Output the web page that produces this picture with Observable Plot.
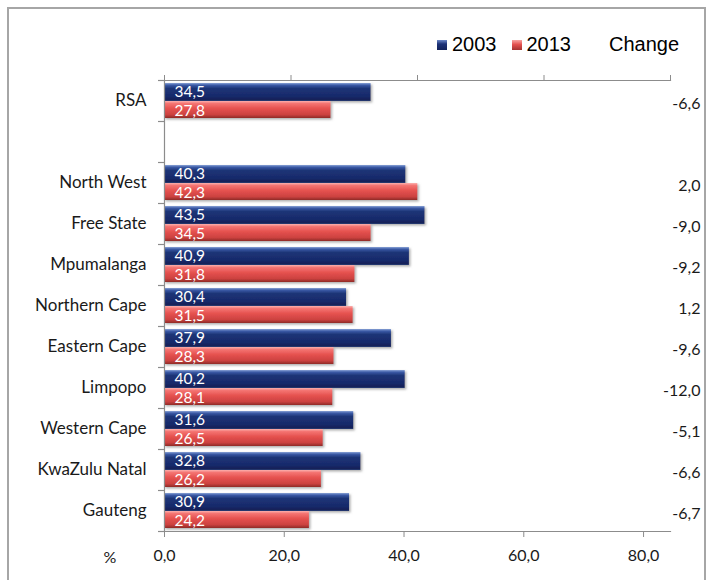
<!DOCTYPE html>
<html>
<head>
<meta charset="utf-8">
<script src="https://cdn.jsdelivr.net/npm/d3@7"></script>
<script src="https://cdn.jsdelivr.net/npm/@observablehq/plot@0.6"></script>
<style>
  html, body { margin: 0; padding: 0; background: #fff; }
  #wrap { position: relative; width: 718px; height: 580px; overflow: hidden; }
  #border { position: absolute; left: 7px; top: 7px; width: 699px; height: 620px; border: 2px solid #a6a6a6; box-sizing: border-box; }
  #chart { position: absolute; left: 0; top: 0; }
  #legend { position: absolute; top: 33px; left: 437px; font-family: "Liberation Sans", Arial, sans-serif; font-size: 20px; color: #000; display: flex; align-items: center; white-space: nowrap; }
  .sw { display: inline-block; width: 10px; height: 10px; margin-right: 5px; }
  .lab { margin-right: 15px; }
</style>
</head>
<body>
<div id="wrap">
  <div id="border"></div>
  <div id="chart"></div>
  <div id="legend"></div>
</div>
<script>
const categories = ["RSA", " ", "North West", "Free State", "Mpumalanga", "Northern Cape", "Eastern Cape", "Limpopo", "Western Cape", "KwaZulu Natal", "Gauteng"];
const values2003 = [34.5, null, 40.3, 43.5, 40.9, 30.4, 37.9, 40.2, 31.6, 32.8, 30.9];
const values2013 = [27.8, null, 42.3, 34.5, 31.8, 31.5, 28.3, 28.1, 26.5, 26.2, 24.2];
const changes = [-6.6, null, 2.0, -9.0, -9.2, 1.2, -9.6, -12.0, -5.1, -6.6, -6.7];
const seriesNames = ["2003", "2013", "Change"];
const xTicks = [0, 20, 40, 60, 80];
const xMax = 84.5;
const topTicks = [0, 21.125, 42.25, 63.375, 84.5];

const fmt = d => d.toFixed(1).replace(".", ",");
const d2003 = categories.map((c, i) => ({cat: c, v: values2003[i]})).filter(d => d.v != null);
const d2013 = categories.map((c, i) => ({cat: c, v: values2013[i]})).filter(d => d.v != null);
const dChange = categories.map((c, i) => ({cat: c, v: changes[i]})).filter(d => d.v != null);

const calibri = "Lato, 'Open Sans', sans-serif";

const chart = Plot.plot({
  width: 718,
  height: 580,
  marginLeft: 164,
  marginRight: 48,
  marginTop: 80,
  marginBottom: 49,
  style: {fontFamily: calibri, fontSize: "16px", color: "#1a1a1a", background: "transparent"},
  x: {domain: [0, xMax], ticks: xTicks},
  y: {domain: categories, padding: 0},
  marks: [
    Plot.barX(d2003, {x: 0, x2: "v", y: "cat", fill: "url(#gBlue)", insetTop: 3, insetBottom: 20}),
    Plot.barX(d2013, {x: 0, x2: "v", y: "cat", fill: "url(#gRed)", insetTop: 21, insetBottom: 3}),
    Plot.text(d2003, {x: 0, y: "cat", text: d => fmt(d.v), fill: "white", textAnchor: "start", dx: 10, dy: -9, fontSize: 15.5}),
    Plot.text(d2013, {x: 0, y: "cat", text: d => fmt(d.v), fill: "white", textAnchor: "start", dx: 10, dy: 10, fontSize: 15.5}),
    Plot.text(dChange, {frameAnchor: "right", y: "cat", text: d => fmt(d.v), textAnchor: "end", dx: 30, dy: 3, fontSize: 16, fill: "#1a1a1a"}),
    Plot.ruleX([0], {stroke: "#8c8c8c", strokeWidth: 1.2}),
    Plot.frame({anchor: "top", stroke: "#8c8c8c", strokeWidth: 1.2}),
    Plot.frame({anchor: "bottom", stroke: "#8c8c8c", strokeWidth: 1.2}),
    Plot.ruleY(categories, {y: d => d, dy: 20.5, x1: -1, x2: 0, stroke: "#8c8c8c", strokeWidth: 1.2}),
    Plot.ruleY([categories[0]], {y: d => d, dy: -20.5, x1: -1, x2: 0, stroke: "#8c8c8c", strokeWidth: 1.2}),
    Plot.axisX({anchor: "bottom", ticks: xTicks, tickFormat: fmt, tickSize: 6, tickPadding: 12, stroke: "#8c8c8c", fill: "#1a1a1a", fontSize: 16, label: null}),
    Plot.axisX({anchor: "top", ticks: topTicks, tickFormat: () => "", tickSize: 6, stroke: "#8c8c8c", label: null}),
    Plot.axisY({anchor: "left", tickSize: 0, tickPadding: 18, fontSize: 17, fill: "#1a1a1a", label: null}),
    Plot.text(["%"], {frameAnchor: "bottom-left", text: d => d, dx: -61, dy: 31, fontSize: 16, fill: "#1a1a1a"})
  ]
});

const svg = d3.select(chart);
const defs = svg.insert("defs", ":first-child");
const gb = defs.append("linearGradient").attr("id", "gBlue").attr("x1", 0).attr("y1", 0).attr("x2", 0).attr("y2", 1);
[["0%", "#8aa3d6"], ["12%", "#3a5aa6"], ["30%", "#1e3577"], ["75%", "#17296a"], ["92%", "#122158"], ["100%", "#2b3f78"]].forEach(([o, c]) => gb.append("stop").attr("offset", o).attr("stop-color", c));
const gr = defs.append("linearGradient").attr("id", "gRed").attr("x1", 0).attr("y1", 0).attr("x2", 0).attr("y2", 1);
[["0%", "#fbb0ad"], ["15%", "#f47472"], ["45%", "#e5514f"], ["80%", "#cc4240"], ["100%", "#8f2a28"]].forEach(([o, c]) => gr.append("stop").attr("offset", o).attr("stop-color", c));
const f = defs.append("filter").attr("id", "shadow").attr("x", "-5%").attr("y", "-20%").attr("width", "115%").attr("height", "160%");
f.append("feDropShadow").attr("dx", 1.5).attr("dy", 1.5).attr("stdDeviation", 1).attr("flood-color", "#777").attr("flood-opacity", 0.6);
svg.selectAll("g[aria-label='bar']").attr("filter", "url(#shadow)");

document.getElementById("chart").appendChild(chart);

const legend = document.getElementById("legend");
const swatchFills = ["linear-gradient(#6d88c8, #1d3277 40%, #12225a)", "linear-gradient(#f7a3a0, #e3504e 45%, #a43230)", null];
seriesNames.forEach((name, i) => {
  if (swatchFills[i]) {
    const s = document.createElement("span");
    s.className = "sw";
    s.style.background = swatchFills[i];
    legend.appendChild(s);
  } else {
    const sp = document.createElement("span");
    sp.style.display = "inline-block";
    sp.style.width = "23px";
    legend.appendChild(sp);
  }
  const t = document.createElement("span");
  t.className = "lab";
  t.textContent = name;
  legend.appendChild(t);
});
</script>
</body>
</html>
